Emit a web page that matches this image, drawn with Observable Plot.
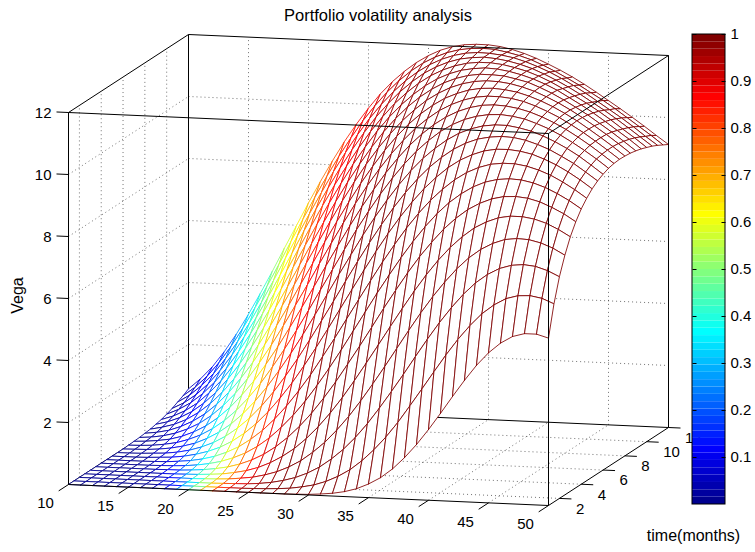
<!DOCTYPE html>
<html>
<head>
<meta charset="utf-8">
<script src="https://cdn.jsdelivr.net/npm/d3@7"></script>
<script src="https://cdn.jsdelivr.net/npm/@observablehq/plot@0.6"></script>
<style>
  body { margin: 0; background: #fff; }
  #wrap { width: 755px; height: 552px; }
</style>
</head>
<body>
<div id="wrap"></div>
<script>
// ---------------- data ----------------
const stockPrice = [10,11,12,13,14,15,16,17,18,19,20,21,22,23,24,25,26,27,28,29,30,31,32,33,34,35,36,37,38,39,40,41,42,43,44,45,46,47,48,49,50];
const months = [1,1.5,2,2.5,3,3.5,4,4.5,5,5.5,6,6.5,7,7.5,8,8.5,9,9.5,10,10.5,11,11.5,12];

// Vega surface (rows = months, columns = stock price)
const vega = [
 [0,0,0,0,0,0,0,0,0,0,0,0,0,0,0,0,0,0,0,0.01,0.02,0.05,0.09,0.16,0.27,0.44,0.66,0.96,1.34,1.78,2.28,2.82,3.38,3.92,4.42,4.84,5.17,5.40,5.51,5.51,5.40],
 [0,0,0,0,0,0,0,0,0,0,0,0,0,0,0,0.01,0.02,0.04,0.07,0.13,0.21,0.34,0.52,0.75,1.06,1.43,1.86,2.35,2.90,3.46,4.03,4.59,5.11,5.57,5.97,6.27,6.49,6.60,6.62,6.55,6.39],
 [0,0,0,0,0,0,0,0,0,0,0,0,0.01,0.02,0.03,0.06,0.11,0.19,0.30,0.46,0.67,0.95,1.28,1.68,2.14,2.66,3.21,3.78,4.37,4.95,5.50,6.00,6.45,6.83,7.12,7.33,7.45,7.49,7.45,7.33,7.15],
 [0,0,0,0,0,0,0,0,0,0,0.01,0.02,0.04,0.08,0.13,0.22,0.34,0.51,0.73,1.02,1.36,1.77,2.23,2.75,3.31,3.89,4.49,5.09,5.67,6.21,6.70,7.14,7.51,7.80,8.01,8.15,8.20,8.18,8.09,7.94,7.73],
 [0,0,0,0,0,0,0,0,0.01,0.02,0.04,0.07,0.13,0.21,0.33,0.50,0.72,0.99,1.33,1.73,2.19,2.70,3.26,3.85,4.45,5.06,5.66,6.24,6.78,7.27,7.70,8.06,8.36,8.57,8.72,8.79,8.79,8.73,8.61,8.43,8.21],
 [0,0,0,0,0,0,0.01,0.01,0.03,0.06,0.11,0.18,0.29,0.44,0.64,0.90,1.22,1.60,2.04,2.54,3.08,3.67,4.27,4.89,5.52,6.12,6.70,7.24,7.72,8.16,8.52,8.82,9.04,9.20,9.29,9.31,9.27,9.17,9.01,8.82,8.58],
 [0,0,0,0,0,0.01,0.02,0.04,0.08,0.14,0.23,0.36,0.53,0.76,1.05,1.41,1.82,2.29,2.82,3.39,3.99,4.62,5.25,5.88,6.48,7.06,7.60,8.09,8.53,8.90,9.20,9.44,9.61,9.71,9.75,9.73,9.65,9.52,9.34,9.13,8.88],
 [0,0,0,0,0.01,0.02,0.05,0.09,0.16,0.26,0.41,0.60,0.86,1.17,1.55,1.99,2.49,3.03,3.63,4.24,4.88,5.52,6.15,6.77,7.35,7.90,8.39,8.83,9.20,9.52,9.77,9.95,10.07,10.12,10.12,10.06,9.95,9.80,9.60,9.37,9.11],
 [0,0,0,0.01,0.03,0.05,0.10,0.18,0.29,0.44,0.65,0.92,1.25,1.65,2.11,2.62,3.19,3.79,4.42,5.07,5.72,6.36,6.98,7.57,8.12,8.62,9.07,9.45,9.78,10.04,10.23,10.37,10.44,10.45,10.41,10.33,10.19,10.02,9.81,9.57,9.30],
 [0,0,0.01,0.03,0.05,0.10,0.18,0.30,0.46,0.68,0.96,1.30,1.71,2.18,2.71,3.28,3.90,4.54,5.19,5.85,6.50,7.13,7.73,8.29,8.80,9.25,9.65,9.98,10.26,10.47,10.62,10.70,10.74,10.72,10.65,10.53,10.38,10.18,9.97,9.71,9.44],
 [0,0.01,0.02,0.05,0.10,0.18,0.29,0.46,0.68,0.96,1.31,1.73,2.21,2.75,3.33,3.95,4.60,5.27,5.94,6.59,7.24,7.84,8.40,8.92,9.39,9.80,10.14,10.43,10.66,10.82,10.93,10.98,10.98,10.92,10.83,10.69,10.52,10.32,10.09,9.82,9.54],
 [0.01,0.02,0.04,0.09,0.16,0.28,0.44,0.66,0.94,1.29,1.71,2.19,2.74,3.33,3.95,4.61,5.29,5.96,6.63,7.28,7.89,8.47,9.00,9.48,9.90,10.26,10.57,10.81,10.99,11.11,11.18,11.20,11.16,11.09,10.96,10.81,10.62,10.40,10.16,9.90,9.62],
 [0.02,0.04,0.08,0.14,0.25,0.41,0.62,0.90,1.25,1.67,2.14,2.69,3.28,3.92,4.58,5.26,5.95,6.62,7.28,7.91,8.49,9.04,9.53,9.97,10.34,10.66,10.92,11.12,11.26,11.35,11.38,11.36,11.30,11.20,11.06,10.89,10.69,10.46,10.21,9.94,9.66],
 [0.03,0.06,0.12,0.22,0.37,0.57,0.84,1.18,1.59,2.07,2.61,3.20,3.84,4.51,5.19,5.89,6.57,7.24,7.88,8.48,9.03,9.54,9.99,10.39,10.72,11.00,11.21,11.37,11.48,11.53,11.53,11.49,11.41,11.28,11.12,10.94,10.72,10.49,10.23,9.96,9.68],
 [0.05,0.10,0.18,0.32,0.51,0.76,1.09,1.49,1.96,2.49,3.08,3.72,4.39,5.09,5.78,6.48,7.15,7.80,8.42,8.99,9.52,9.99,10.40,10.75,11.04,11.28,11.45,11.58,11.65,11.67,11.64,11.58,11.47,11.33,11.16,10.96,10.74,10.49,10.23,9.96,9.67],
 [0.07,0.15,0.26,0.43,0.67,0.98,1.36,1.82,2.35,2.93,3.57,4.24,4.93,5.64,6.34,7.03,7.70,8.33,8.92,9.46,9.94,10.37,10.74,11.06,11.31,11.51,11.65,11.74,11.78,11.77,11.72,11.63,11.51,11.35,11.17,10.96,10.73,10.48,10.22,9.94,9.65],
 [0.11,0.21,0.36,0.57,0.86,1.22,1.67,2.18,2.75,3.38,4.05,4.75,5.46,6.17,6.87,7.55,8.20,8.80,9.36,9.87,10.32,10.71,11.04,11.31,11.53,11.69,11.80,11.86,11.86,11.84,11.76,11.67,11.52,11.35,11.15,10.93,10.70,10.44,10.18,9.90,9.61],
 [0.15,0.28,0.47,0.73,1.08,1.49,1.99,2.55,3.17,3.83,4.53,5.25,5.97,6.68,7.37,8.03,8.66,9.23,9.76,10.23,10.64,10.99,11.29,11.53,11.71,11.84,11.91,11.95,11.93,11.87,11.78,11.66,11.51,11.33,11.11,10.89,10.65,10.39,10.12,9.85,9.56],
 [0.21,0.38,0.61,0.92,1.31,1.78,2.33,2.93,3.59,4.28,5.00,5.73,6.45,7.16,7.84,8.47,9.07,9.62,10.11,10.55,10.92,11.24,11.50,11.70,11.85,11.95,12.00,12.00,11.96,11.88,11.78,11.64,11.47,11.27,11.05,10.83,10.59,10.33,10.05,9.78,9.49],
 [0.28,0.48,0.76,1.12,1.57,2.09,2.68,3.32,4.01,4.73,5.46,6.20,6.92,7.61,8.27,8.88,9.45,9.97,10.42,10.82,11.16,11.45,11.67,11.84,11.96,12.02,12.05,12.02,11.96,11.87,11.75,11.59,11.41,11.21,10.99,10.75,10.51,10.25,9.98,9.70,9.42],
 [0.37,0.61,0.94,1.34,1.84,2.40,3.03,3.71,4.43,5.17,5.91,6.64,7.34,8.03,8.66,9.25,9.79,10.27,10.69,11.06,11.36,11.61,11.80,11.94,12.03,12.07,12.06,12.02,11.95,11.84,11.70,11.54,11.35,11.14,10.91,10.66,10.41,10.16,9.89,9.60,9.33],
 [0.46,0.75,1.12,1.58,2.12,2.73,3.40,4.11,4.84,5.59,6.33,7.06,7.75,8.41,9.02,9.59,10.09,10.54,10.93,11.26,11.53,11.74,11.90,12.01,12.07,12.09,12.07,12.00,11.91,11.79,11.63,11.45,11.25,11.04,10.81,10.58,10.33,10.06,9.79,9.52,9.23],
 [0.57,0.91,1.32,1.83,2.41,3.06,3.76,4.49,5.25,5.99,6.74,7.45,8.13,8.77,9.35,9.88,10.36,10.77,11.12,11.42,11.66,11.85,11.98,12.06,12.09,12.09,12.05,11.97,11.86,11.72,11.55,11.37,11.17,10.95,10.71,10.46,10.21,9.95,9.68,9.40,9.13]
];

// Colour data (0..1) used for the mesh edge colours
const delta = [
 [0,0,0,0,0,0,0.01,0.04,0.12,0.28,0.48,0.69,0.84,0.93,0.97,0.99,1,1,1,1,1,1,1,1,1,1,1,1,1,1,1,1,1,1,1,1,1,1,1,1,1],
 [0,0,0,0,0,0.01,0.03,0.08,0.18,0.34,0.51,0.68,0.81,0.90,0.95,0.98,0.99,1,1,1,1,1,1,1,1,1,1,1,1,1,1,1,1,1,1,1,1,1,1,1,1],
 [0,0,0,0,0,0.02,0.05,0.12,0.24,0.38,0.54,0.68,0.79,0.88,0.93,0.96,0.98,0.99,1,1,1,1,1,1,1,1,1,1,1,1,1,1,1,1,1,1,1,1,1,1,1],
 [0,0,0,0,0.01,0.03,0.08,0.16,0.28,0.41,0.55,0.68,0.78,0.86,0.92,0.95,0.97,0.99,0.99,1,1,1,1,1,1,1,1,1,1,1,1,1,1,1,1,1,1,1,1,1,1],
 [0,0,0,0.01,0.02,0.05,0.11,0.20,0.31,0.44,0.57,0.68,0.78,0.85,0.91,0.94,0.97,0.98,0.99,0.99,1,1,1,1,1,1,1,1,1,1,1,1,1,1,1,1,1,1,1,1,1],
 [0,0,0,0.01,0.03,0.07,0.14,0.23,0.34,0.46,0.58,0.69,0.78,0.84,0.90,0.93,0.96,0.97,0.98,0.99,0.99,1,1,1,1,1,1,1,1,1,1,1,1,1,1,1,1,1,1,1,1],
 [0,0,0.01,0.02,0.05,0.09,0.17,0.26,0.37,0.48,0.59,0.69,0.77,0.84,0.89,0.93,0.95,0.97,0.98,0.99,0.99,1,1,1,1,1,1,1,1,1,1,1,1,1,1,1,1,1,1,1,1],
 [0,0,0.01,0.03,0.06,0.11,0.19,0.29,0.39,0.50,0.60,0.70,0.77,0.84,0.88,0.92,0.95,0.96,0.98,0.98,0.99,0.99,1,1,1,1,1,1,1,1,1,1,1,1,1,1,1,1,1,1,1],
 [0,0,0.01,0.04,0.08,0.13,0.21,0.31,0.41,0.52,0.61,0.70,0.77,0.83,0.88,0.91,0.94,0.96,0.97,0.98,0.99,0.99,0.99,1,1,1,1,1,1,1,1,1,1,1,1,1,1,1,1,1,1],
 [0,0.01,0.02,0.05,0.09,0.15,0.24,0.33,0.43,0.53,0.62,0.70,0.77,0.83,0.88,0.91,0.94,0.96,0.97,0.98,0.99,0.99,0.99,1,1,1,1,1,1,1,1,1,1,1,1,1,1,1,1,1,1],
 [0,0.01,0.03,0.06,0.11,0.17,0.26,0.35,0.45,0.54,0.63,0.71,0.77,0.83,0.87,0.91,0.93,0.95,0.97,0.98,0.98,0.99,0.99,0.99,1,1,1,1,1,1,1,1,1,1,1,1,1,1,1,1,1],
 [0,0.01,0.03,0.07,0.12,0.19,0.28,0.37,0.46,0.55,0.64,0.71,0.78,0.83,0.87,0.90,0.93,0.95,0.96,0.97,0.98,0.99,0.99,0.99,1,1,1,1,1,1,1,1,1,1,1,1,1,1,1,1,1],
 [0.01,0.02,0.04,0.08,0.14,0.21,0.29,0.38,0.48,0.56,0.65,0.72,0.78,0.83,0.87,0.90,0.93,0.95,0.96,0.97,0.98,0.98,0.99,0.99,0.99,1,1,1,1,1,1,1,1,1,1,1,1,1,1,1,1],
 [0.01,0.02,0.05,0.09,0.15,0.23,0.31,0.40,0.49,0.57,0.65,0.72,0.78,0.83,0.87,0.90,0.92,0.94,0.96,0.97,0.98,0.98,0.99,0.99,0.99,1,1,1,1,1,1,1,1,1,1,1,1,1,1,1,1],
 [0.01,0.03,0.06,0.11,0.17,0.24,0.33,0.42,0.50,0.58,0.66,0.72,0.78,0.83,0.87,0.90,0.92,0.94,0.96,0.97,0.98,0.98,0.99,0.99,0.99,0.99,1,1,1,1,1,1,1,1,1,1,1,1,1,1,1],
 [0.02,0.04,0.07,0.12,0.18,0.26,0.34,0.43,0.51,0.59,0.66,0.73,0.78,0.83,0.87,0.90,0.92,0.94,0.95,0.96,0.97,0.98,0.99,0.99,0.99,0.99,1,1,1,1,1,1,1,1,1,1,1,1,1,1,1],
 [0.02,0.04,0.08,0.13,0.20,0.28,0.36,0.44,0.52,0.60,0.67,0.73,0.78,0.83,0.86,0.89,0.92,0.94,0.95,0.96,0.97,0.98,0.98,0.99,0.99,0.99,0.99,1,1,1,1,1,1,1,1,1,1,1,1,1,1],
 [0.02,0.05,0.09,0.15,0.21,0.29,0.37,0.46,0.54,0.61,0.68,0.74,0.79,0.83,0.86,0.89,0.92,0.93,0.95,0.96,0.97,0.98,0.98,0.99,0.99,0.99,0.99,1,1,1,1,1,1,1,1,1,1,1,1,1,1],
 [0.03,0.06,0.10,0.16,0.23,0.30,0.39,0.47,0.55,0.62,0.68,0.74,0.79,0.83,0.86,0.89,0.91,0.93,0.95,0.96,0.97,0.98,0.98,0.99,0.99,0.99,0.99,1,1,1,1,1,1,1,1,1,1,1,1,1,1],
 [0.03,0.07,0.11,0.17,0.24,0.32,0.40,0.48,0.55,0.62,0.69,0.74,0.79,0.83,0.86,0.89,0.91,0.93,0.95,0.96,0.97,0.97,0.98,0.98,0.99,0.99,0.99,0.99,1,1,1,1,1,1,1,1,1,1,1,1,1],
 [0.04,0.07,0.12,0.18,0.25,0.33,0.41,0.49,0.56,0.63,0.69,0.75,0.79,0.83,0.86,0.89,0.91,0.93,0.95,0.96,0.97,0.97,0.98,0.98,0.99,0.99,0.99,0.99,1,1,1,1,1,1,1,1,1,1,1,1,1],
 [0.05,0.08,0.13,0.20,0.27,0.34,0.42,0.50,0.57,0.64,0.70,0.75,0.79,0.83,0.86,0.89,0.91,0.93,0.94,0.96,0.97,0.97,0.98,0.98,0.99,0.99,0.99,0.99,0.99,1,1,1,1,1,1,1,1,1,1,1,1],
 [0.05,0.09,0.14,0.21,0.28,0.36,0.43,0.51,0.58,0.65,0.70,0.75,0.80,0.83,0.86,0.89,0.91,0.93,0.94,0.95,0.96,0.97,0.98,0.98,0.99,0.99,0.99,0.99,0.99,1,1,1,1,1,1,1,1,1,1,1,1]
];

const xTicks = [10,15,20,25,30,35,40,45,50];
const tTicks = [2,4,6,8,10,12];
const zTicks = [2,4,6,8,10,12];
const cbTicks = [0.1,0.2,0.3,0.4,0.5,0.6,0.7,0.8,0.9,1];
const titleText = "Portfolio volatility analysis";
const zLabelText = "Vega";
const tLabelText = "time(months)";

// sanity check
[vega, delta].forEach((m, k) => m.forEach((row, j) => {
  if (row.length !== stockPrice.length) throw new Error(`matrix ${k} row ${j} has ${row.length}`);
}));
if (vega.length !== months.length || delta.length !== months.length) throw new Error("row count");

// ---------------- 3-D view ----------------
const xLim = [10, 50], tLim = [1, 12], zLim = [0, 12];
// orthographic view (az ≈ 14.5°, el ≈ 9.7°), in view units
const VIEW = {ux: 480, vx: 120, uy: -21, vy: 78, wz: 372, du: 122.4, dv: -457, dw: 63.5};
function proj(S, t, z) {
  const u = (S - xLim[0]) / (xLim[1] - xLim[0]);
  const v = (t - tLim[0]) / (tLim[1] - tLim[0]);
  const w = (z - zLim[0]) / (zLim[1] - zLim[0]);
  return {X: VIEW.ux * u + VIEW.vx * v, Y: VIEW.uy * u + VIEW.vy * v + VIEW.wz * w,
          D: VIEW.du * u + VIEW.dv * v + VIEW.dw * w};
}
function seg(a, b) {
  const p = proj(...a), q = proj(...b);
  return {x1: p.X, y1: p.Y, x2: q.X, y2: q.Y};
}

// MATLAB jet(64)
const jet64 = Array.from({length: 64}, (_, i) => {
  const r = i < 24 ? 0 : i < 40 ? (i - 23) / 16 : i < 55 ? 1 : 1 - (i - 55) / 16;
  const g = i < 8 ? 0 : i < 24 ? (i - 7) / 16 : i < 39 ? 1 : i < 55 ? (55 - i) / 16 : 0;
  const b = i < 8 ? (i + 9) / 16 : i < 23 ? 1 : i < 39 ? (39 - i) / 16 : 0;
  return d3.rgb(r * 255, g * 255, b * 255).formatHex();
});
const colorScale = {type: "threshold", domain: d3.range(1, 64).map(k => k / 64), range: jet64};

// ---------------- mesh quads (painter's order) ----------------
const quads = [];
for (let j = 0; j < months.length - 1; j++) {
  for (let i = 0; i < stockPrice.length - 1; i++) {
    const corners = [[i, j], [i + 1, j], [i + 1, j + 1], [i, j + 1]];
    const pts = corners.map(([a, b]) => proj(stockPrice[a], months[b], vega[b][a]));
    const depth = d3.mean(pts, p => p.D);
    quads.push({depth, c: delta[j][i], pts});
  }
}
quads.sort((a, b) => a.depth - b.depth);
const quadPts = [];
quads.forEach((q, k) => {
  [...q.pts, q.pts[0]].forEach(p => quadPts.push({id: k, X: p.X, Y: p.Y, c: q.c}));
});

// ---------------- box, grid, ticks ----------------
const [x0, x1] = xLim, [t0, t1] = tLim, [z0, z1] = zLim;
const gridSegs = [];
xTicks.filter(s => s > x0 && s < x1).forEach(s => {
  gridSegs.push(seg([s, t1, z0], [s, t1, z1]));   // back wall
  gridSegs.push(seg([s, t0, z0], [s, t1, z0]));   // floor
});
zTicks.filter(z => z > z0 && z < z1).forEach(z => {
  gridSegs.push(seg([x0, t1, z], [x1, t1, z]));   // back wall
  gridSegs.push(seg([x0, t0, z], [x0, t1, z]));   // left wall
});
tTicks.filter(t => t > t0 && t < t1).forEach(t => {
  gridSegs.push(seg([x0, t, z0], [x0, t, z1]));   // left wall
  gridSegs.push(seg([x0, t, z0], [x1, t, z0]));   // floor
});

const backEdges = [
  seg([x0, t1, z0], [x0, t1, z1]),
  seg([x0, t0, z0], [x0, t1, z0]),
  seg([x0, t1, z0], [x1, t1, z0])
];
const frontEdges = [
  seg([x0, t0, z0], [x0, t0, z1]),
  seg([x0, t0, z0], [x1, t0, z0]),
  seg([x1, t0, z0], [x1, t1, z0]),
  seg([x1, t0, z0], [x1, t0, z1]),
  seg([x1, t1, z0], [x1, t1, z1]),
  seg([x0, t0, z1], [x1, t0, z1]),
  seg([x0, t0, z1], [x0, t1, z1]),
  seg([x0, t1, z1], [x1, t1, z1]),
  seg([x1, t0, z1], [x1, t1, z1])
];
const tickSegs = [
  ...xTicks.map(s => seg([s, t0, z0], [s, t0 - 0.9, z0])),
  ...tTicks.map(t => seg([x1, t, z0], [x1 + 1, t, z0])),
  ...zTicks.map(z => seg([x0, t0, z], [x0 - 1, t0, z]))
];
const xLabels = xTicks.map(s => ({...proj(s, t0, z0), label: String(s)}));
const tLabels = tTicks.map(t => ({...proj(x1, t, z0), label: String(t)}));
const zLabels = zTicks.map(z => ({...proj(x0, t0, z), label: String(z)}));

// ---------------- colorbar (placed to the right of the box, same SVG) ----------------
const CB = {x0: 624, x1: 657, yAt: v => -20 + 470 * v, tick: 4};
const cbBands = d3.range(64).map(i => ({v0: i / 64, v1: (i + 1) / 64}));
const cbTickSegs = cbTicks.flatMap(v => [
  {x1: CB.x0, x2: CB.x0 + CB.tick, y1: CB.yAt(v), y2: CB.yAt(v)},
  {x1: CB.x1 - CB.tick, x2: CB.x1, y1: CB.yAt(v), y2: CB.yAt(v)}
]);

const FONT = "'Liberation Sans', Arial, Helvetica, sans-serif";
const L = {x1: "x1", y1: "y1", x2: "x2", y2: "y2"};

const main = Plot.plot({
  width: 755, height: 552, margin: 0,
  x: {domain: [0, 600], range: [68, 668], axis: null},
  y: {domain: [-21, 451], range: [505, 33], axis: null},
  color: colorScale,
  style: {fontFamily: FONT, fontSize: "15px", background: "white", color: "black"},
  marks: [
    Plot.link(gridSegs, {...L, stroke: "#000", strokeOpacity: 0.7, strokeWidth: 0.8, strokeDasharray: "1,3"}),
    Plot.link(backEdges, {...L, stroke: "black", strokeWidth: 1}),
    Plot.line(quadPts, {x: "X", y: "Y", z: "id", stroke: "c", fill: "white", strokeWidth: 0.85}),
    Plot.link(frontEdges, {...L, stroke: "black", strokeWidth: 1}),
    Plot.link(tickSegs, {...L, stroke: "black", strokeWidth: 1}),
    Plot.text(xLabels, {x: "X", y: "Y", text: "label", dx: -23, dy: 19, textAnchor: "middle", lineAnchor: "middle", fontSize: 15, fill: "black"}),
    Plot.text(tLabels, {x: "X", y: "Y", text: "label", dx: 16.5, dy: 10.5, textAnchor: "start", lineAnchor: "middle", fontSize: 15, fill: "black"}),
    Plot.text(zLabels, {x: "X", y: "Y", text: "label", dx: -17, dy: 1, textAnchor: "end", lineAnchor: "middle", fontSize: 15, fill: "black"}),
    Plot.text([titleText], {frameAnchor: "top", dy: 15, textAnchor: "middle", lineAnchor: "middle", fontSize: 16.5, fill: "black"}),
    Plot.text([zLabelText], {frameAnchor: "left", dx: 17, dy: 19, rotate: -90, textAnchor: "middle", lineAnchor: "middle", fontSize: 16, fill: "black"}),
    Plot.text([tLabelText], {frameAnchor: "bottom-right", dx: -62, dy: -17, textAnchor: "middle", lineAnchor: "middle", fontSize: 16, fill: "black"}),
    // colorbar
    Plot.rect(cbBands, {x1: () => CB.x0, x2: () => CB.x1, y1: d => CB.yAt(d.v0), y2: d => CB.yAt(d.v1), fill: d => (d.v0 + d.v1) / 2}),
    Plot.link(cbTickSegs, {...L, stroke: "black", strokeWidth: 1}),
    Plot.rect([0], {x1: () => CB.x0, x2: () => CB.x1, y1: () => CB.yAt(0), y2: () => CB.yAt(1), fill: "none", stroke: "black", strokeWidth: 1}),
    Plot.text(cbTicks, {x: () => CB.x1, y: d => CB.yAt(d), text: d => String(d), dx: 5, textAnchor: "start", lineAnchor: "middle", fontSize: 15, fill: "black"})
  ]
});

document.getElementById("wrap").appendChild(main);
</script>
</body>
</html>
